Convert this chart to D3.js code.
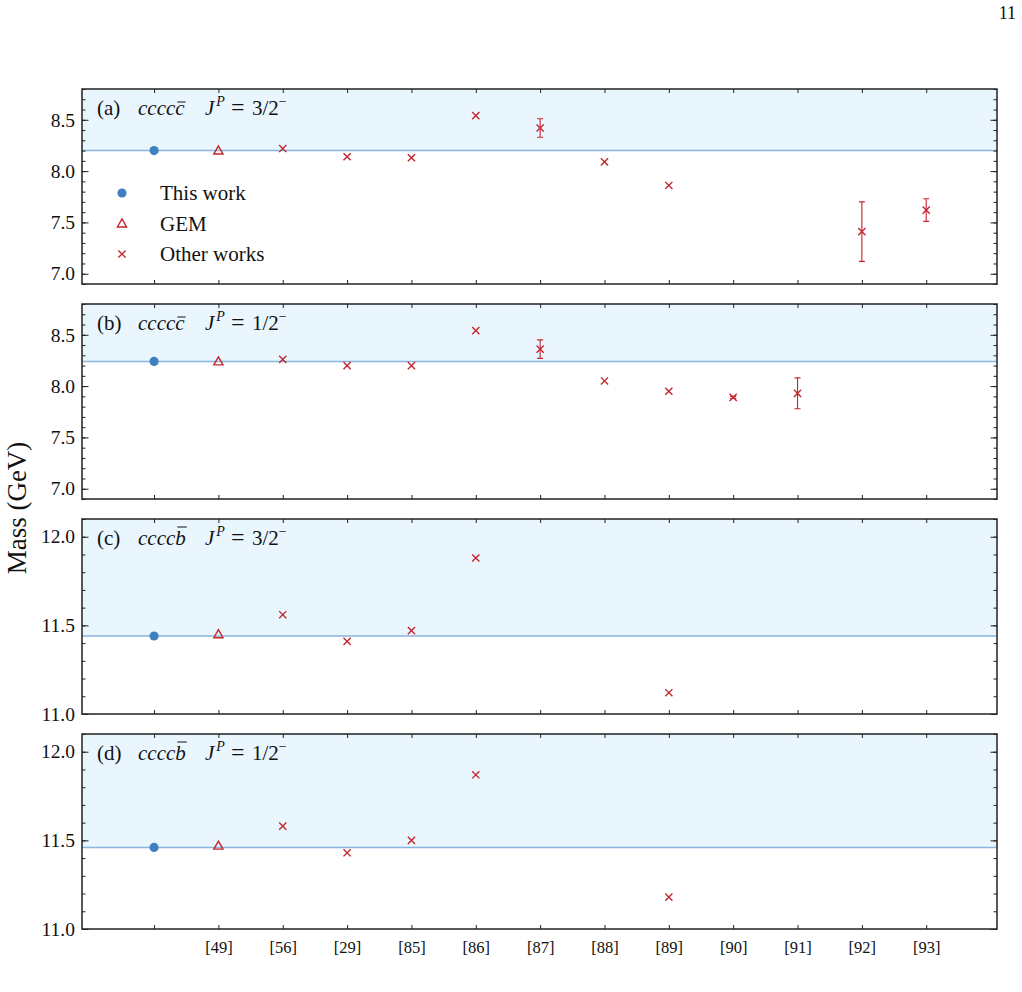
<!DOCTYPE html>
<html>
<head>
<meta charset="utf-8">
<script src="https://cdn.jsdelivr.net/npm/d3@7"></script>
<style>
	body { margin: 0; background: #fff; }
	svg text { font-family: "Liberation Serif", "DejaVu Serif", serif; fill: #111; }
</style>
</head>
<body>
<svg id="chart" width="1022" height="992"></svg>
<script>
// Reference labels for each column, first column is this work (no label)
const refs = ["", "[49]", "[56]", "[29]", "[85]", "[86]", "[87]", "[88]", "[89]", "[90]", "[91]", "[92]", "[93]"]

// Masses in GeV, null where no value exists
const massA = [8.20, 8.20, 8.22, 8.14, 8.13, 8.54, 8.42, 8.09, 7.86, null, null, 7.41, 7.62]
const errA  = [0, 0, 0, 0, 0, 0, 0.09, 0, 0, 0, 0, 0.29, 0.11]
const massB = [8.24, 8.24, 8.26, 8.20, 8.20, 8.54, 8.36, 8.05, 7.95, 7.89, 7.93, null, null]
const errB  = [0, 0, 0, 0, 0, 0, 0.09, 0, 0, 0.01, 0.15, 0, 0]
const massC = [11.44, 11.45, 11.56, 11.41, 11.47, 11.88, null, null, 11.12, null, null, null, null]
const massD = [11.46, 11.47, 11.58, 11.43, 11.50, 11.87, null, null, 11.18, null, null, null, null]

const panelTags = ["(a)", "(b)", "(c)", "(d)"]
const quarks = ["ccccc", "ccccc", "ccccb", "ccccb"]
const spins = ["3/2", "1/2", "3/2", "1/2"]
const legendLabels = ["This work", "GEM", "Other works"]

const panels = [
	{ mass: massA, err: errA, domain: [6.9, 8.8], ticks: [7.0, 7.5, 8.0, 8.5] },
	{ mass: massB, err: errB, domain: [6.9, 8.8], ticks: [7.0, 7.5, 8.0, 8.5] },
	{ mass: massC, err: null, domain: [11.0, 12.1], ticks: [11.0, 11.5, 12.0] },
	{ mass: massD, err: null, domain: [11.0, 12.1], ticks: [11.0, 11.5, 12.0] },
]

const colour = {
	blue: "#3f80c0",
	line: "#8ab5de",
	shade: "#eaf6fd",
	red: "#c3262d",
	frame: "#222",
}

const layout = { left: 82, right: 997, tops: [89, 304, 519, 734], height: 195 }

const svg = d3.select("#chart")

const x = d3.scaleLinear()
	.domain([-1.12, 13.1])
	.range([layout.left, layout.right])

const idx = d3.range(refs.length)

// Page number
svg.append("text")
	.attr("x", 1016)
	.attr("y", 19)
	.attr("text-anchor", "end")
	.style("font-size", "18px")
	.text("11")

// Y axis title
svg.append("text")
	.attr("transform", "translate(26, 508) rotate(-90)")
	.attr("text-anchor", "middle")
	.style("font-size", "27px")
	.text("Mass (GeV)")

function drawMarker(g, i, cx, cy) {
	if (i === 0) {
		g.append("circle")
			.attr("cx", cx).attr("cy", cy).attr("r", 4.6)
			.attr("fill", colour.blue)
	} else if (i === 1) {
		let s = 4.6
		g.append("path")
			.attr("d", `M${cx},${cy - s} L${cx + s},${cy + s * 0.75} L${cx - s},${cy + s * 0.75} Z`)
			.attr("fill", "none")
			.attr("stroke", colour.red)
			.attr("stroke-width", 1.4)
	} else {
		let s = 3.6
		g.append("path")
			.attr("d", `M${cx - s},${cy - s} L${cx + s},${cy + s} M${cx - s},${cy + s} L${cx + s},${cy - s}`)
			.attr("stroke", colour.red)
			.attr("stroke-width", 1.4)
	}
}

panels.forEach((p, k) => {
	let top = layout.tops[k]
	let bottom = top + layout.height
	let y = d3.scaleLinear().domain(p.domain).range([bottom, top])
	let g = svg.append("g").attr("class", "panel")

	// Shaded band above this work's mass
	let ref = y(p.mass[0])
	g.append("rect")
		.attr("x", layout.left).attr("y", top)
		.attr("width", layout.right - layout.left)
		.attr("height", ref - top)
		.attr("fill", colour.shade)
	g.append("line")
		.attr("x1", layout.left).attr("x2", layout.right)
		.attr("y1", ref).attr("y2", ref)
		.attr("stroke", colour.line)
		.attr("stroke-width", 1.5)

	// Axes, ticks pointing inwards
	let minor = d3.range(p.domain[0], p.domain[1] + 1e-9, 0.1).map(v => Math.round(v * 10) / 10)
	g.append("g")
		.attr("transform", `translate(${layout.left},0)`)
		.call(d3.axisLeft(y).tickValues(minor).tickSize(-3.5).tickFormat(""))
	g.append("g")
		.attr("class", "yLeft")
		.attr("transform", `translate(${layout.left},0)`)
		.call(d3.axisLeft(y).tickValues(p.ticks).tickSize(-6.5).tickPadding(7).tickFormat(d3.format(".1f")))
	g.append("g")
		.attr("transform", `translate(${layout.right},0)`)
		.call(d3.axisRight(y).tickValues(minor).tickSize(-3.5).tickFormat(""))
	g.append("g")
		.attr("transform", `translate(${layout.right},0)`)
		.call(d3.axisRight(y).tickValues(p.ticks).tickSize(-6.5).tickFormat(""))
	g.append("g")
		.attr("transform", `translate(0,${top})`)
		.call(d3.axisTop(x).tickValues(idx).tickSize(-4).tickFormat(""))
	let bottomAxis = d3.axisBottom(x).tickValues(idx).tickSize(-4).tickPadding(12)
		.tickFormat(k === 3 ? (i => refs[i]) : "")
	g.append("g")
		.attr("class", "xBottom")
		.attr("transform", `translate(0,${bottom})`)
		.call(bottomAxis)

	g.selectAll(".domain").remove()
	g.selectAll(".tick line").attr("stroke", colour.frame).attr("stroke-width", 1)
	g.selectAll(".yLeft text").style("font-size", "19.5px").attr("fill", "#111")
	g.selectAll(".xBottom text").style("font-size", "16.5px").attr("fill", "#111")

	// Frame
	g.append("rect")
		.attr("x", layout.left).attr("y", top)
		.attr("width", layout.right - layout.left)
		.attr("height", layout.height)
		.attr("fill", "none")
		.attr("stroke", colour.frame)
		.attr("stroke-width", 1.5)

	// Error bars
	if (p.err) {
		idx.filter(i => p.mass[i] != null && p.err[i] > 0).forEach(i => {
			let cx = x(i)
			let y1 = y(p.mass[i] + p.err[i])
			let y2 = y(p.mass[i] - p.err[i])
			g.append("path")
				.attr("d", `M${cx},${y1} L${cx},${y2} M${cx - 3},${y1} L${cx + 3},${y1} M${cx - 3},${y2} L${cx + 3},${y2}`)
				.attr("stroke", colour.red)
				.attr("stroke-width", 1.1)
				.attr("fill", "none")
		})
	}

	// Markers
	idx.filter(i => p.mass[i] != null).forEach(i => drawMarker(g, i, x(i), y(p.mass[i])))

	// Panel label
	let base = top + 26
	g.append("text")
		.attr("x", 97).attr("y", base)
		.style("font-size", "21px")
		.text(panelTags[k])
	let q = g.append("text")
		.attr("x", 138).attr("y", base)
		.style("font-size", "21px")
		.style("font-style", "italic")
		.text(quarks[k])
	// Overbar on the antiquark
	let box = q.node().getExtentOfChar(4)
	let barY = quarks[k].endsWith("b") ? box.y + 1 : box.y + 6
	g.append("line")
		.attr("x1", box.x + 2).attr("x2", box.x + box.width + 1)
		.attr("y1", barY).attr("y2", barY)
		.attr("stroke", "#111")
		.attr("stroke-width", 1)
	let jp = g.append("text")
		.attr("x", 205).attr("y", base)
		.style("font-size", "21px")
	jp.append("tspan").style("font-style", "italic").text("J")
	jp.append("tspan").style("font-style", "italic").style("font-size", "14px")
		.attr("dx", 2).attr("dy", -9).text("P")
	jp.append("tspan").attr("x", 231).attr("dy", 9).style("font-size", "24px").text("=")
	jp.append("tspan").attr("x", 252).text(spins[k])
	jp.append("tspan").style("font-size", "14px").attr("dy", -9).text("\u2212")
})

// Legend in panel (a)
let legend = svg.append("g").attr("class", "legend")
legendLabels.forEach((label, i) => {
	let cy = 193 + i * 30.5
	drawMarker(legend, i === 2 ? 2 : i, 122, cy)
	legend.append("text")
		.attr("x", 160).attr("y", cy + 7)
		.style("font-size", "21px")
		.text(label)
})
</script>
</body>
</html>
